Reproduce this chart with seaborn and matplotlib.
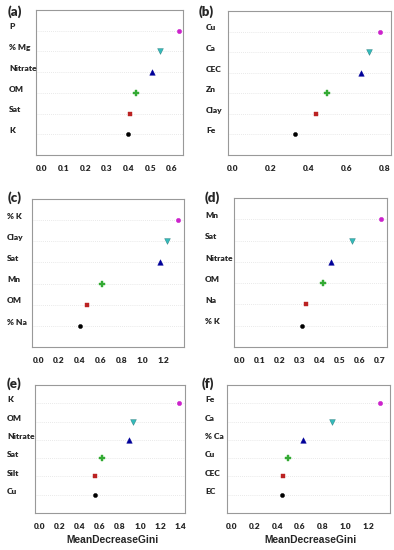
import numpy as np
import pandas as pd
import seaborn as sns
import matplotlib
matplotlib.use("Agg")
import matplotlib.pyplot as plt
import matplotlib.transforms as mtransforms

sns.set_style("white")
plt.rcParams['font.family'] = ['Lato', 'DejaVu Sans']

# ---- data (top row first) ----
labels_a = ["P", "% Mg", "Nitrate", "OM", "Sat", "K"]
values_a = [0.631, 0.544, 0.508, 0.432, 0.406, 0.395]
ticks_a = [0.0, 0.1, 0.2, 0.3, 0.4, 0.5, 0.6]

labels_b = ["Cu", "Ca", "CEC", "Zn", "Clay", "Fe"]
values_b = [0.779, 0.717, 0.677, 0.499, 0.441, 0.331]
ticks_b = [0.0, 0.2, 0.4, 0.6, 0.8]

labels_c = ["% K", "Clay", "Sat", "Mn", "OM", "% Na"]
values_c = [1.347, 1.238, 1.171, 0.611, 0.470, 0.403]
ticks_c = [0.0, 0.2, 0.4, 0.6, 0.8, 1.0, 1.2]

labels_d = ["Mn", "Sat", "Nitrate", "OM", "Na", "% K"]
values_d = [0.705, 0.564, 0.459, 0.417, 0.333, 0.313]
ticks_d = [0.0, 0.1, 0.2, 0.3, 0.4, 0.5, 0.6, 0.7]

labels_e = ["K", "OM", "Nitrate", "Sat", "Silt", "Cu"]
values_e = [1.39, 0.927, 0.890, 0.617, 0.550, 0.547]
ticks_e = [0.0, 0.2, 0.4, 0.6, 0.8, 1.0, 1.2, 1.4]

labels_f = ["Fe", "Ca", "% Ca", "Cu", "CEC", "EC"]
values_f = [1.303, 0.885, 0.624, 0.494, 0.453, 0.441]
ticks_f = [0.0, 0.2, 0.4, 0.6, 0.8, 1.0, 1.2]

panel_tags = ["(a)", "(b)", "(c)", "(d)", "(e)", "(f)"]
xlabel_text = "MeanDecreaseGini"

# ---- styles ----
rank_colors = ["#CC22CC", "#33BBBB", "#000099", "#33AA33", "#BB2222", "#000000"]
rank_markers = ["o", "v", "^", "P", "s", "o"]
rank_sizes = [10, 17, 16, 14, 10, 9]

W, H = 394, 550
fig = plt.figure(figsize=(W / 100, H / 100), dpi=100)

layout = [
    dict(box=(36, 183, 10, 155), xlim=(-0.028, 0.651), lx=9, tag=(8, 12)),
    dict(box=(228, 391, 11, 155), xlim=(-0.025, 0.835), lx=206, tag=(199, 12)),
    dict(box=(32, 184, 199, 347), xlim=(-0.061, 1.40), lx=7, tag=(8, 198)),
    dict(box=(234, 387, 198, 347), xlim=(-0.026, 0.737), lx=205, tag=(205, 198)),
    dict(box=(35, 185, 385, 513), xlim=(-0.05, 1.45), lx=7, tag=(7, 384)),
    dict(box=(227, 390, 385, 513), xlim=(-0.044, 1.394), lx=205, tag=(202, 384)),
]
datasets = [
    (labels_a, values_a, ticks_a),
    (labels_b, values_b, ticks_b),
    (labels_c, values_c, ticks_c),
    (labels_d, values_d, ticks_d),
    (labels_e, values_e, ticks_e),
    (labels_f, values_f, ticks_f),
]

for i, (lay, (labs, vals, ticks)) in enumerate(zip(layout, datasets)):
    l, r, t, b = lay["box"]
    ax = fig.add_axes([l / W, 1 - b / H, (r - l) / W, (b - t) / H])
    n = len(labs)
    pos = list(range(n, 0, -1))
    df = pd.DataFrame({"value": vals, "pos": pos})
    for k in range(n):
        sub = df.iloc[[k]]
        sns.scatterplot(data=sub, x="value", y="pos", ax=ax, color=rank_colors[k],
                        marker=rank_markers[k], s=rank_sizes[k], linewidth=0.3,
                        edgecolor=rank_colors[k] if k != 1 else "#227777",
                        legend=False, zorder=3)
    ax.set_xlim(*lay["xlim"])
    ax.set_ylim(0, n + 1)
    ax.set_yticks(pos)
    ax.set_yticklabels([])
    ax.tick_params(axis="y", length=0)
    ax.grid(axis="y", color="#e2e2e2", linestyle=(0, (1, 1.5)), linewidth=0.6)
    ax.set_xticks(ticks)
    ax.set_xticklabels([f"{v:.1f}" for v in ticks], fontsize=6, fontweight="heavy")
    ax.tick_params(axis="x", length=3, width=0.5, color="#888888", pad=4, direction="out")
    for sp in ax.spines.values():
        sp.set_color("#999999")
        sp.set_linewidth(0.8)
    ax.set_xlabel("")
    ax.set_ylabel("")
    trans = mtransforms.blended_transform_factory(fig.transFigure, ax.transData)
    for p, lab in zip(pos, labs):
        ax.text(lay["lx"] / W, p + 0.18, lab, transform=trans, ha="left", va="center",
                fontsize=6, fontweight="heavy", clip_on=False)
    tx, ty = lay["tag"]
    fig.text(tx / W, 1 - ty / H, panel_tags[i], ha="left", va="center",
             fontsize=9.5, fontweight="heavy")
    if i >= 4:
        fig.text(((l + r) / 2 + 2) / W, 1 - 540 / H, xlabel_text, ha="center", va="center",
                 fontsize=7.4, fontweight="bold", family=["Liberation Sans", "DejaVu Sans"])

fig.savefig("out.png", dpi=100)
